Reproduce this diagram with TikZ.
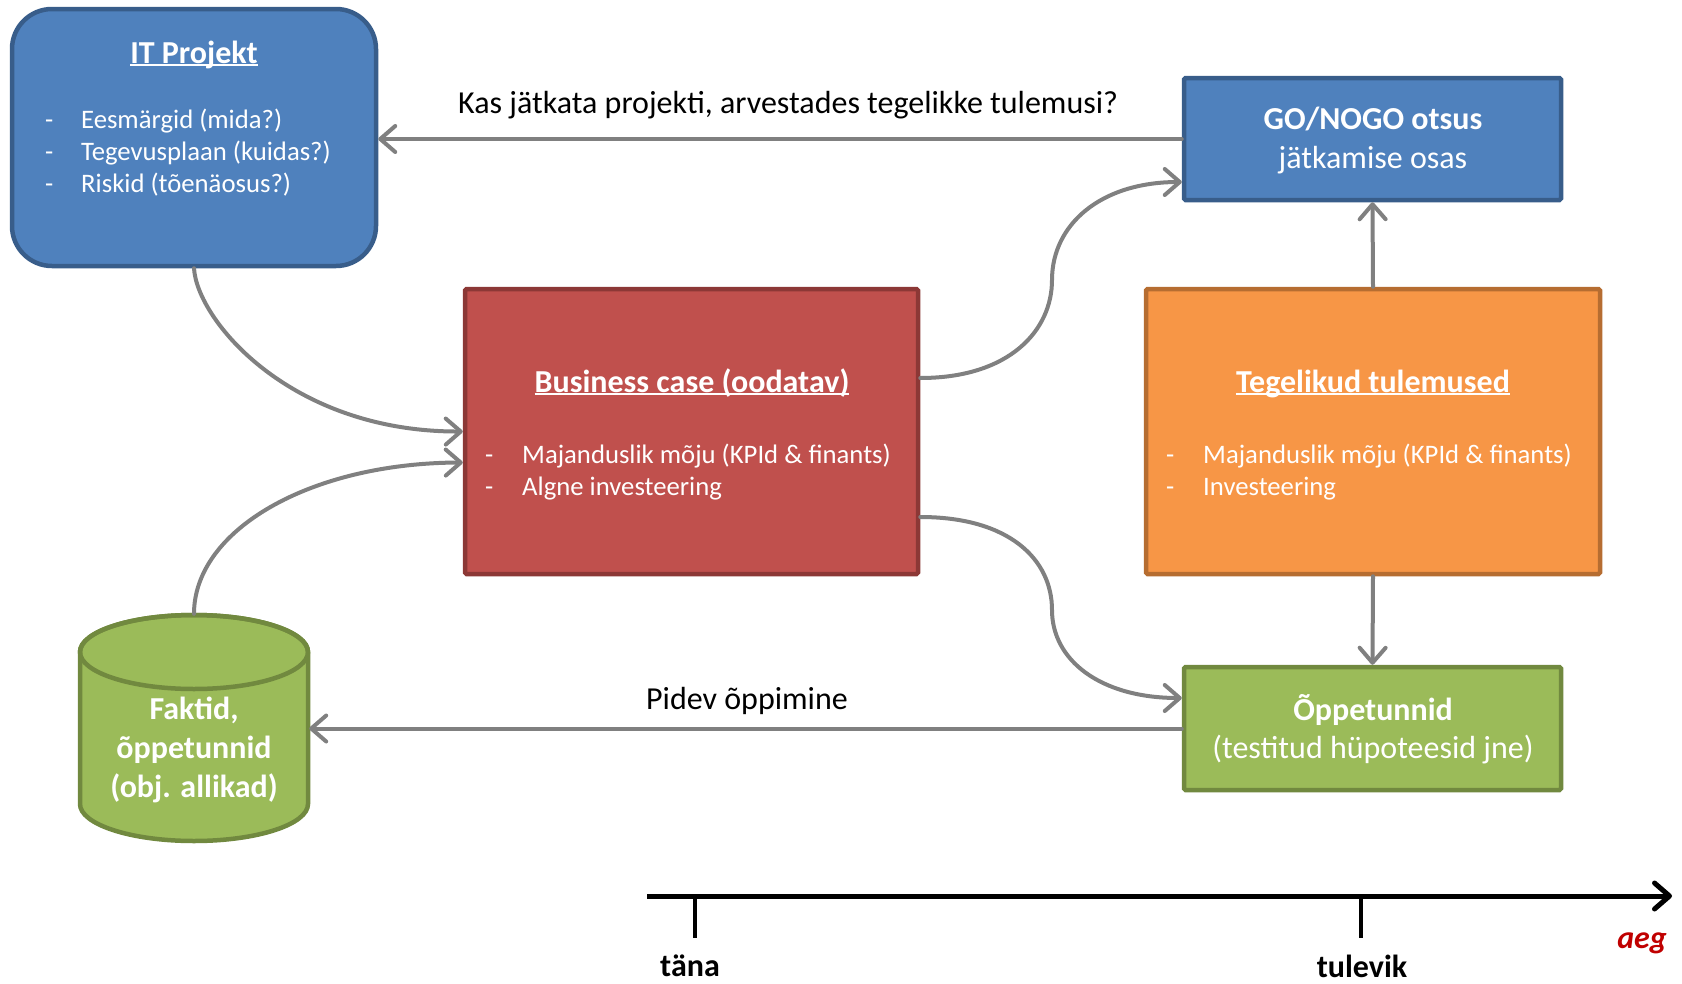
\documentclass[tikz,border=0pt]{standalone}
\usepackage{fontspec}
\setmainfont{Carlito}
\usetikzlibrary{arrows.meta}
\definecolor{bluefill}{HTML}{4F81BD}
\definecolor{blueline}{HTML}{385D8A}
\definecolor{redfill}{HTML}{C0504D}
\definecolor{redline}{HTML}{8C3836}
\definecolor{orfill}{HTML}{F79646}
\definecolor{orline}{HTML}{B66D31}
\definecolor{grfill}{HTML}{9BBB59}
\definecolor{grline}{HTML}{71893F}
\definecolor{arrowgray}{HTML}{808080}
\definecolor{aegred}{HTML}{C00000}
\newcommand\myul[1]{{\setbox0=\hbox{#1}\rlap{\rule[-3pt]{\wd0}{1.8pt}}\box0}}
\begin{document}
\begin{tikzpicture}[x=1pt,y=-1pt,
  box/.style={line width=4.5pt, rounded corners=1.5pt, inner sep=0pt, anchor=center},
  bluebox/.style={box, draw=blueline, fill=bluefill},
  redbox/.style={box, draw=redline, fill=redfill},
  orbox/.style={box, draw=orline, fill=orfill},
  grbox/.style={box, draw=grline, fill=grfill},
  conn/.style={draw=arrowgray, line width=4pt, line cap=round, -{Straight Barb[length=15pt,width=26pt,round]}},
  wtxt/.style={text=white, inner sep=0pt, anchor=base},
  bodytxt/.style={wtxt, anchor=base west, font=\fontsize{26.7pt}{32pt}\selectfont},
  titletxt/.style={wtxt, font=\fontsize{32pt}{38pt}\selectfont\bfseries},
  bigtxt/.style={wtxt, font=\fontsize{32pt}{38pt}\selectfont},
  bigbold/.style={wtxt, font=\fontsize{32pt}{38pt}\selectfont\bfseries},
  lbl/.style={inner sep=0pt, anchor=base, font=\fontsize{32pt}{38pt}\selectfont},
  tl/.style={inner sep=0pt, anchor=base, font=\fontsize{32pt}{38pt}\selectfont\bfseries}
]
\useasboundingbox (0,0) rectangle (1682,983);

% boxes
\node[bluebox, rounded corners=40pt, minimum width=364pt, minimum height=257pt] (it) at (194,137.5) {};
\node[bluebox, minimum width=377pt, minimum height=122pt] (go) at (1372.5,139) {};
\node[redbox, minimum width=453pt, minimum height=285pt] (bc) at (691.5,431.5) {};
\node[orbox, minimum width=454pt, minimum height=285pt] (tt) at (1373,431.5) {};
\node[grbox, minimum width=377pt, minimum height=123pt] (op) at (1372.5,728.5) {};

% cylinder
\filldraw[line width=4.5pt, draw=grline, fill=grfill]
  (80,652) -- (80,804) arc[start angle=180, end angle=360, x radius=114pt, y radius=37pt]
  -- (308,652) arc[start angle=0, end angle=180, x radius=114pt, y radius=37pt] -- cycle;
\draw[line width=4.5pt, draw=grline] (194,652) ellipse[x radius=114pt, y radius=37pt];
\node[inner sep=0pt, minimum width=230pt, minimum height=228pt] (db) at (194,728) {};

% texts IT
\node[titletxt] (itT) at (194,63) {\myul{IT Projekt}};
\node[bodytxt] (itd1) at (45,128) {-};
\node[bodytxt] (it1) at (81,128) {Eesmärgid (mida?)};
\node[bodytxt] (itd2) at (45,160) {-};
\node[bodytxt] (it2) at (81,160) {Tegevusplaan (kuidas?)};
\node[bodytxt] (itd3) at (45,192) {-};
\node[bodytxt] (it3) at (81,192) {Riskid (tõenäosus?)};

% texts BC
\node[titletxt] (bcT) at (692,392) {\myul{Business case (oodatav)}};
\node[bodytxt] (bcd1) at (485,463) {-};
\node[bodytxt] (bc1) at (522,463) {Majanduslik mõju (KPId \& finants)};
\node[bodytxt] (bcd2) at (485,495) {-};
\node[bodytxt] (bc2) at (522,495) {Algne investeering};

% texts TT
\node[titletxt] (ttT) at (1373,392) {\myul{Tegelikud tulemused}};
\node[bodytxt] (ttd1) at (1166,463) {-};
\node[bodytxt] (tt1) at (1203,463) {Majanduslik mõju (KPId \& finants)};
\node[bodytxt] (ttd2) at (1166,495) {-};
\node[bodytxt] (tt2) at (1203,495) {Investeering};

% texts GO
\node[bigbold] (goT) at (1373,129) {GO/NOGO otsus};
\node[bigtxt] (go2) at (1373,168) {jätkamise osas};

% texts OP
\node[bigbold] (opT) at (1373,720) {Õppetunnid};
\node[bigtxt] (op2) at (1373,758) {(testitud hüpoteesid jne)};

% texts cylinder
\node[bigbold] (db1) at (194,719) {Faktid,};
\node[bigbold] (db2) at (194,758) {õppetunnid};
\node[bigbold] (db3) at (194,797) {(obj. allikad)};

% connectors
\draw[conn] (go.west) -- (go.west -| it.east);
\node[lbl, anchor=base west] (kas) at (458,113) {Kas jätkata projekti, arvestades tegelikke tulemusi?};
\draw[conn] (op.west) -- (op.west -| db.east);
\node[lbl] (pidev) at (747,709) {Pidev õppimine};

\draw[conn] (it.south) .. controls (197,320) and (290,432) .. (bc.west);
\draw[conn] (db.north) .. controls (194,530) and (310,463) .. ([yshift=-31pt]bc.west);
\draw[conn] ([yshift=53.5pt]bc.east) .. controls (1010,378) and (1052,330) .. (1052,280)
  .. controls (1052,225) and (1100,182) .. ([yshift=-43pt]go.west);
\draw[conn] ([yshift=-85.5pt]bc.east) .. controls (1010,517) and (1052,560) .. (1052,610)
  .. controls (1052,660) and (1100,698) .. ([yshift=30.5pt]op.west);
\draw[conn] (tt.north) -- (go.south);
\draw[conn] (tt.south) -- (op.north);

% timeline
\coordinate (ts) at (647,896);
\coordinate (te) at (1672,896);
\draw[line width=5pt, -{Straight Barb[length=15pt,width=26pt,round]}] (ts) -- (te);
\coordinate (t1) at (695,896);
\coordinate (t2) at (1361,896);
\draw[line width=4.5pt] (t1) -- ++(0,42);
\draw[line width=4.5pt] (t2) -- ++(0,42);
\node[tl] (tana) at (690,976) {täna};
\node[tl] (tulevik) at (1362,977) {tulevik};
\node[tl, anchor=base east, text=aegred, font=\fontsize{32pt}{38pt}\selectfont\bfseries\itshape] (aeg) at (1667,948) {aeg};
\end{tikzpicture}
\end{document}
